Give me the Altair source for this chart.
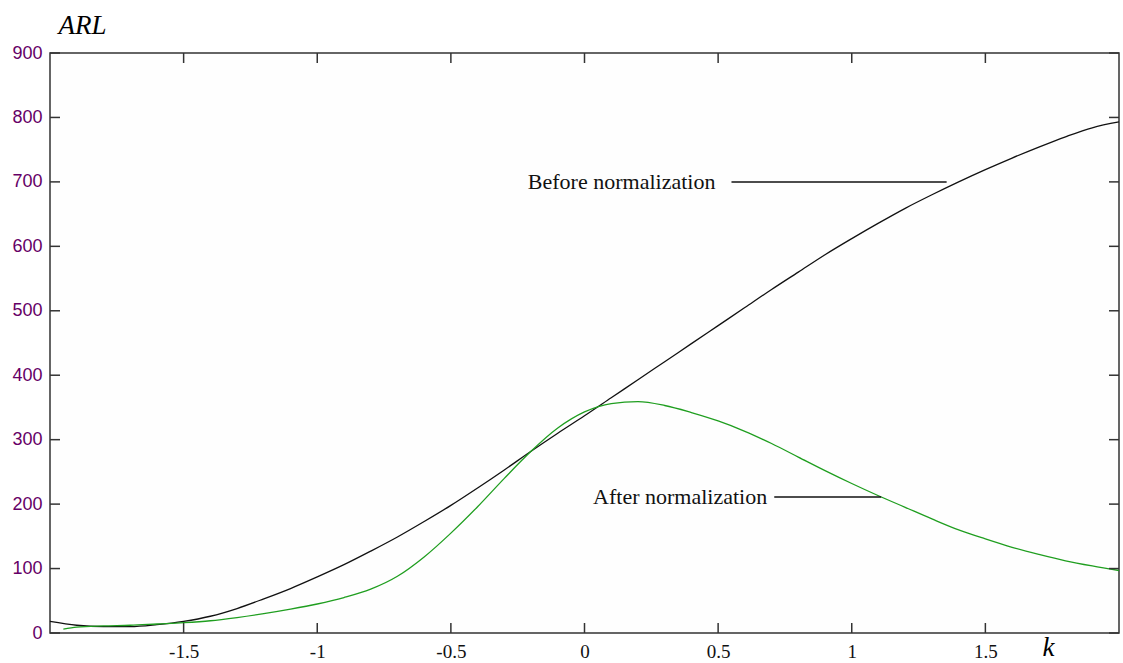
import altair as alt
import pandas as pd

# ---- data ----
k_before = [-2.0, -1.9, -1.8, -1.7, -1.6, -1.5, -1.4, -1.3, -1.2, -1.1, -1.0,
            -0.9, -0.8, -0.7, -0.6, -0.5, -0.4, -0.3, -0.2, -0.1, 0.0,
            0.1, 0.2, 0.3, 0.4, 0.5, 0.6, 0.7, 0.8, 0.9, 1.0,
            1.1, 1.2, 1.3, 1.4, 1.5, 1.6, 1.7, 1.8, 1.9, 2.0]
arl_before = [18, 12, 10, 10, 13, 18, 26, 38, 53, 69, 87,
              106, 127, 149, 173, 198, 225, 253, 282, 310, 337,
              365, 393, 421, 449, 477, 505, 533, 560, 587, 612,
              636, 659, 680, 700, 719, 737, 754, 770, 784, 793]

k_after = [-1.95, -1.9, -1.8, -1.7, -1.6, -1.5, -1.4, -1.3, -1.2, -1.1, -1.0,
           -0.9, -0.8, -0.7, -0.6, -0.5, -0.4, -0.3, -0.2, -0.1, 0.0,
           0.1, 0.2, 0.3, 0.4, 0.5, 0.6, 0.7, 0.8, 0.9, 1.0,
           1.1, 1.2, 1.3, 1.4, 1.5, 1.6, 1.7, 1.8, 1.9, 2.0]
arl_after = [6, 9, 11, 12, 14, 16, 19, 24, 30, 37, 45,
             55, 68, 88, 118, 155, 196, 240, 282, 318, 343,
             356, 359, 353, 342, 329, 313, 294, 273, 252, 232,
             213, 195, 177, 160, 146, 133, 122, 112, 104, 97]

x_ticks = [-1.5, -1.0, -0.5, 0.0, 0.5, 1.0, 1.5]
y_ticks = [0, 100, 200, 300, 400, 500, 600, 700, 800, 900]

ann_labels = ["Before normalization", "After normalization"]
ann_text_k = [-0.212, 0.032]
ann_val = [700, 211]
ann_line_k1 = [0.55, 0.71]
ann_line_k2 = [1.355, 1.11]

# ---- tables ----
before_df = pd.DataFrame({"k": k_before, "ARL": arl_before})
after_df = pd.DataFrame({"k": k_after, "ARL": arl_after})
xt_df = pd.DataFrame({"k": x_ticks})
yt_df = pd.DataFrame({"ARL": y_ticks})
ann_df = pd.DataFrame({"label": ann_labels, "k": ann_text_k, "ARL": ann_val,
                       "k1": ann_line_k1, "k2": ann_line_k2})

W, H = 1069, 580
xs = alt.Scale(domain=[-2, 2], nice=False, zero=False)
ys = alt.Scale(domain=[0, 900], nice=False, zero=False)

x_axis = alt.Axis(values=x_ticks, labelExpr="toString(datum.value)", ticks=False,
                  domain=False, grid=False, labelPadding=9, labelFont="Liberation Serif",
                  labelFontSize=19, labelColor="#111111", title="k",
                  titleFont="Liberation Serif", titleFontStyle="italic", titleFontWeight="normal",
                  titleFontSize=27, titleColor="#000000", titleX=998, titleY=22,
                  titleAlign="center", titleBaseline="alphabetic", labelFlush=False)
y_axis = alt.Axis(values=y_ticks, ticks=False, domain=False, grid=False, labelPadding=8,
                  labelFont="Liberation Sans", labelFontSize=18, labelColor="#660066",
                  title="ARL", titleAngle=0, titleFont="Liberation Serif",
                  titleFontStyle="italic", titleFontWeight="normal", titleFontSize=27,
                  titleColor="#000000", titleX=8, titleY=-20, titleAlign="left",
                  titleBaseline="alphabetic", labelFlush=False)

X = lambda f: alt.X(f, scale=xs, axis=x_axis)
Y = lambda f: alt.Y(f, scale=ys, axis=y_axis)

before_line = alt.Chart(before_df).mark_line(
    color="#111111", strokeWidth=1.3, interpolate="monotone"
).encode(x=X("k:Q"), y=Y("ARL:Q"))
after_line = alt.Chart(after_df).mark_line(
    color="#1f9e1f", strokeWidth=1.3, interpolate="monotone"
).encode(x=X("k:Q"), y=Y("ARL:Q"))

tick_color = "#333333"
left_ticks = alt.Chart(yt_df).mark_rule(color=tick_color, strokeWidth=1.5).encode(
    y=Y("ARL:Q"), x=alt.value(0), x2=alt.value(10))
right_ticks = alt.Chart(yt_df).mark_rule(color=tick_color, strokeWidth=1.5).encode(
    y=Y("ARL:Q"), x=alt.value(W), x2=alt.value(W - 10))
bottom_ticks = alt.Chart(xt_df).mark_rule(color=tick_color, strokeWidth=1.5).encode(
    x=X("k:Q"), y=alt.value(H), y2=alt.value(H - 10))
top_ticks = alt.Chart(xt_df).mark_rule(color=tick_color, strokeWidth=1.5).encode(
    x=X("k:Q"), y=alt.value(0), y2=alt.value(10))

ann_lines = alt.Chart(ann_df).mark_rule(color="#111111", strokeWidth=1.5).encode(
    x=X("k1:Q"), x2="k2:Q", y=Y("ARL:Q"))
ann_text = alt.Chart(ann_df).mark_text(align="left", baseline="middle",
                                       font="Liberation Serif", fontSize=22,
                                       color="#111111").encode(
    x=X("k:Q"), y=Y("ARL:Q"), text="label:N")

chart = alt.layer(
    before_line, after_line, left_ticks, right_ticks, bottom_ticks, top_ticks,
    ann_lines, ann_text
).properties(
    width=W, height=H,
    autosize=alt.AutoSizeParams(type="none"),
    padding={"left": 50, "top": 53, "right": 4, "bottom": 30},
    background="#ffffff",
).configure_view(
    stroke="#333333", strokeWidth=1.5, fill="#fefefe"
)

chart.save("out.html", embed_options={"renderer": "svg", "actions": False})
